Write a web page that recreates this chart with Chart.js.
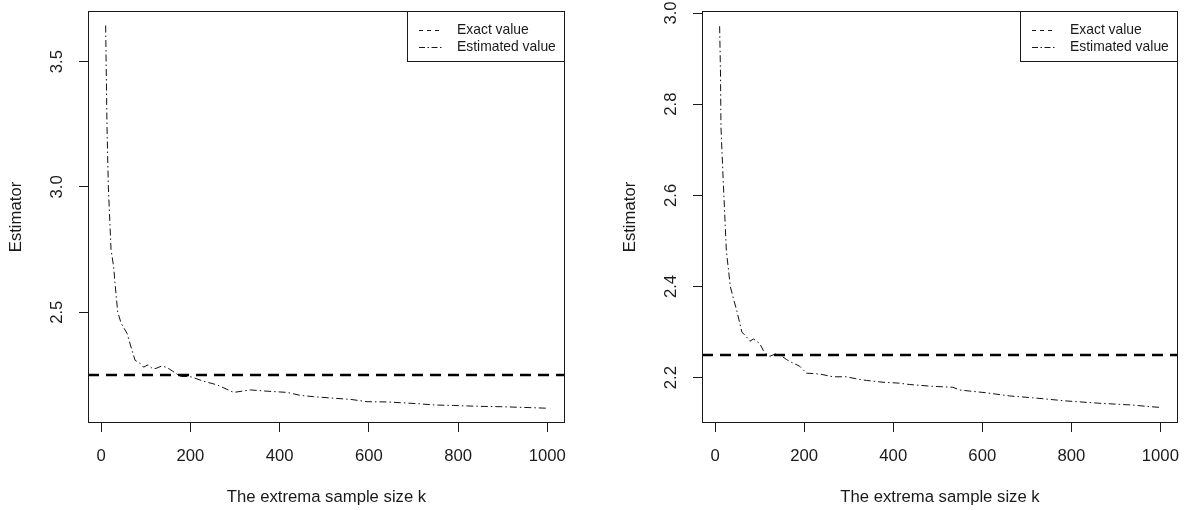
<!DOCTYPE html>
<html>
<head>
<meta charset="utf-8">
<style>
    html, body { margin: 0; padding: 0; background: #fff; }
    .wrap { position: relative; width: 1188px; height: 510px; overflow: hidden; }
    .panel { position: absolute; top: 0; width: 594px; height: 510px; }
</style>
<script src="https://cdn.jsdelivr.net/npm/chart.js@4.4.1/dist/chart.umd.min.js"></script>
</head>
<body>
<div class="wrap">
    <div class="panel" style="left:0"><canvas id="leftChart" width="594" height="510"></canvas></div>
    <div class="panel" style="left:594px"><canvas id="rightChart" width="594" height="510"></canvas></div>
</div>
<script>
const exactValue = 2.25;
const xLimits = [-29.6, 1039.6];
const xTicks = [0, 200, 400, 600, 800, 1000];
const xTitle = "The extrema sample size k";
const yTitle = "Estimator";
const legendLabels = ["Exact value", "Estimated value"];

// left panel
const leftK = [10, 11, 13, 16, 22, 28, 31, 37, 45, 58, 69, 76, 88, 95, 105, 115, 123, 135, 147, 160, 177, 200,
    229, 260, 297, 334, 372, 417, 447, 476, 521, 560, 596, 640, 671, 710, 746, 790, 821, 860, 896, 950, 1000];
const leftEst = [3.644, 3.50, 3.24, 3.00, 2.75, 2.68, 2.615, 2.50, 2.455, 2.415, 2.348, 2.308, 2.295, 2.281, 2.29,
    2.275, 2.276, 2.285, 2.28, 2.265, 2.244, 2.243, 2.225, 2.21, 2.18, 2.19, 2.185, 2.18, 2.168, 2.163, 2.157,
    2.152, 2.143, 2.142, 2.139, 2.135, 2.13, 2.128, 2.126, 2.124, 2.123, 2.12, 2.117];
const leftYTicks = [2.5, 3.0, 3.5];
const leftYLimits = [2.058, 3.702];

// right panel
const rightK = [10, 12, 13, 18, 25, 34, 42, 49, 60, 70, 78, 86, 93, 100, 108, 115, 123, 135, 146, 160, 175, 190,
    205, 220, 235, 265, 295, 320, 340, 377, 414, 437, 489, 534, 549, 608, 661, 713, 788, 862, 937, 970, 997];
const rightEst = [2.971, 2.864, 2.75, 2.634, 2.48, 2.40, 2.37, 2.345, 2.30, 2.29, 2.28, 2.285, 2.28, 2.275, 2.26,
    2.252, 2.247, 2.252, 2.25, 2.24, 2.232, 2.225, 2.21, 2.209, 2.208, 2.202, 2.202, 2.197, 2.194, 2.19, 2.188,
    2.185, 2.181, 2.179, 2.173, 2.167, 2.16, 2.156, 2.149, 2.144, 2.14, 2.137, 2.135];
const rightYTicks = [2.2, 2.4, 2.6, 2.8, 3.0];
const rightYLimits = [2.1006, 3.0044];

const FONT = "'Liberation Sans', Arial, sans-serif";
const INK = "#1a1a1a";
const EXACT_DASH = [11, 7];
const EST_DASH = [7, 3, 1.5, 3];

document.addEventListener("DOMContentLoaded", () => {
    makePanel("leftChart", leftK, leftEst, leftYTicks, leftYLimits, { right: 29, yWidth: 88 });
    makePanel("rightChart", rightK, rightEst, rightYTicks, rightYLimits, { right: 10, yWidth: 108 });
});

// R-style box, rotated y labels, axis titles and legend
const rPlotPlugin = {
    id: "rPlot",
    afterDraw(chart) {
        const { ctx, chartArea: area, scales } = chart;
        const yTickValues = chart.options.plugins.rPlot.yTicks;
        ctx.save();

        ctx.strokeStyle = INK;
        ctx.lineWidth = 1;
        ctx.setLineDash([]);
        ctx.strokeRect(Math.round(area.left) + 0.5, Math.round(area.top) + 0.5,
            Math.round(area.right - area.left) - 1, Math.round(area.bottom - area.top) - 1);

        ctx.fillStyle = INK;
        ctx.font = `16.7px ${FONT}`;
        ctx.textAlign = "center";
        ctx.textBaseline = "middle";

        xTicks.forEach((v) => {
            ctx.fillText(String(v), scales.x.getPixelForValue(v), area.bottom + 33);
        });
        ctx.fillText(xTitle, (area.left + area.right) / 2, area.bottom + 74);

        yTickValues.forEach((v) => {
            ctx.save();
            ctx.translate(area.left - 31, scales.y.getPixelForValue(v));
            ctx.rotate(-Math.PI / 2);
            ctx.fillText(v.toFixed(1), 0, 0);
            ctx.restore();
        });

        ctx.save();
        ctx.translate(area.left - 72, (area.top + area.bottom) / 2);
        ctx.rotate(-Math.PI / 2);
        ctx.fillText(yTitle, 0, 0);
        ctx.restore();

        // legend in the top-right corner
        const boxW = 158;
        const boxH = 50;
        const bx = area.right - boxW;
        const by = area.top;
        ctx.fillStyle = "#fff";
        ctx.fillRect(bx + 0.5, by + 0.5, boxW - 1, boxH);
        ctx.strokeStyle = INK;
        ctx.strokeRect(Math.round(bx) + 0.5, Math.round(by) + 0.5, boxW - 1, boxH);

        ctx.font = `13.9px ${FONT}`;
        ctx.textAlign = "left";
        ctx.fillStyle = INK;
        const dashes = [[4, 4], [6, 2.5, 1.5, 2.5]];
        legendLabels.forEach((label, i) => {
            const ly = by + 19 + i * 17;
            ctx.beginPath();
            ctx.setLineDash(dashes[i]);
            ctx.lineWidth = 1;
            ctx.moveTo(bx + 12, ly + 0.5);
            ctx.lineTo(bx + 35, ly + 0.5);
            ctx.stroke();
            ctx.fillText(label, bx + 50, ly);
        });

        ctx.restore();
    },
};

function makePanel(canvasId, kValues, estValues, yTicks, yLimits, fit) {
    const canvas = document.getElementById(canvasId);

    new Chart(canvas, {
        type: "line",
        data: {
            datasets: [
                {
                    label: legendLabels[0],
                    data: xLimits.map((x) => ({ x, y: exactValue })),
                    borderColor: "#000",
                    borderWidth: 2.5,
                    borderDash: EXACT_DASH,
                    pointRadius: 0,
                    tension: 0,
                },
                {
                    label: legendLabels[1],
                    data: kValues.map((k, i) => ({ x: k, y: estValues[i] })),
                    borderColor: "#111",
                    borderWidth: 1,
                    borderDash: EST_DASH,
                    pointRadius: 0,
                    tension: 0,
                },
            ],
        },
        options: {
            responsive: false,
            animation: false,
            events: [],
            layout: {
                padding: { left: 0, right: fit.right, top: 11, bottom: 0 },
            },
            scales: {
                x: {
                    type: "linear",
                    min: xLimits[0],
                    max: xLimits[1],
                    afterBuildTicks: (scale) => {
                        scale.ticks = xTicks.map((value) => ({ value }));
                    },
                    afterFit: (scale) => {
                        scale.height = 87;
                    },
                    ticks: { display: false },
                    grid: {
                        drawOnChartArea: false,
                        drawTicks: true,
                        tickLength: 9,
                        color: INK,
                    },
                    border: { display: false },
                },
                y: {
                    type: "linear",
                    min: yLimits[0],
                    max: yLimits[1],
                    afterBuildTicks: (scale) => {
                        scale.ticks = yTicks.map((value) => ({ value }));
                    },
                    afterFit: (scale) => {
                        scale.width = fit.yWidth;
                    },
                    ticks: { display: false },
                    grid: {
                        drawOnChartArea: false,
                        drawTicks: true,
                        tickLength: 9,
                        color: INK,
                    },
                    border: { display: false },
                },
            },
            plugins: {
                legend: { display: false },
                tooltip: { enabled: false },
                rPlot: { yTicks },
            },
        },
        plugins: [rPlotPlugin],
    });
}
</script>
</body>
</html>
